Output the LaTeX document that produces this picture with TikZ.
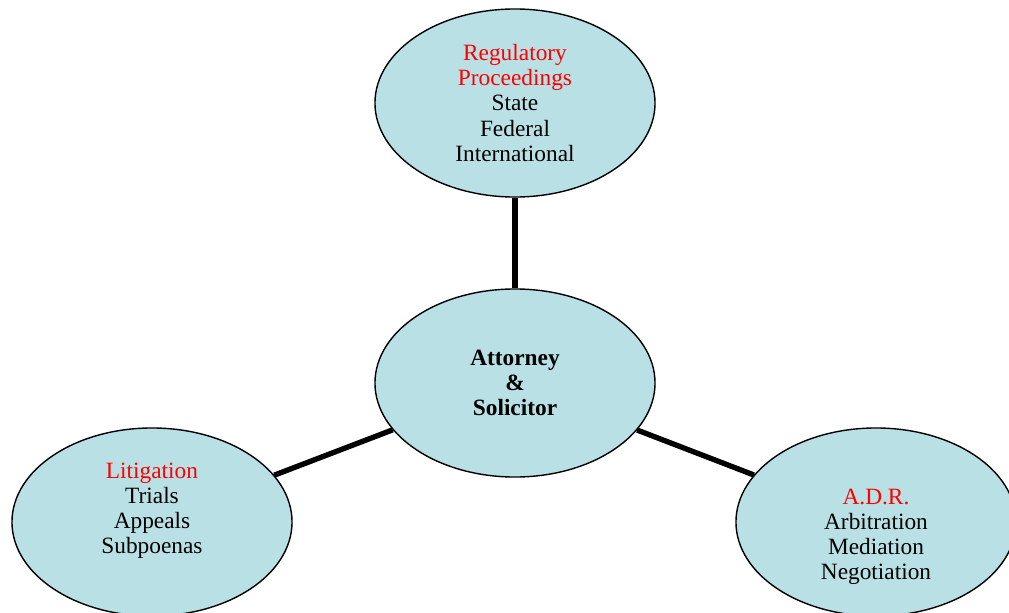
\documentclass[tikz,border=0pt]{standalone}
\usepackage{fontspec}
\setmainfont{Liberation Serif}
\usepackage{tikz}
\usetikzlibrary{shapes, positioning}

\definecolor{bubblefill}{RGB}{185,224,228}
\definecolor{headred}{RGB}{255,0,0}

\begin{document}
\begin{tikzpicture}[
    x=0.025cm, y=-0.025cm,
    bubble/.style={ellipse, draw=black, line width=1pt, fill=bubblefill,
        minimum width=7cm, minimum height=4.7cm, inner sep=0pt},
    bubbletext/.style={align=center, font=\fontsize{16.6}{17.8}\selectfont},
    link/.style={line width=3.8pt}
]
\useasboundingbox (0,0) rectangle (1009,613);

\node [bubble, bubbletext] (reg) at (515,103)
    {\textcolor{headred}{Regulatory}\\\textcolor{headred}{Proceedings}\\State\\Federal\\International};
\node [bubble, bubbletext, font=\fontsize{16.6}{17.8}\selectfont\bfseries] (att) at (515,383)
    {Attorney\\\&\\Solicitor};
\node [bubble] (lit) at (152,522) {};
\node [bubble] (adr) at (876,522) {};

% texts sit a bit off the middle in the lower bubbles
\node [bubbletext] (littext) at ([yshift=0.275cm]lit.center)
    {\textcolor{headred}{Litigation}\\Trials\\Appeals\\Subpoenas};
\node [bubbletext] (adrtext) at ([yshift=-0.375cm]adr.center)
    {\textcolor{headred}{A.D.R.}\\Arbitration\\Mediation\\Negotiation};

\draw [link] (reg) -- (att);
\draw [link] (att) -- (lit);
\draw [link] (att) -- (adr);
\end{tikzpicture}
\end{document}
